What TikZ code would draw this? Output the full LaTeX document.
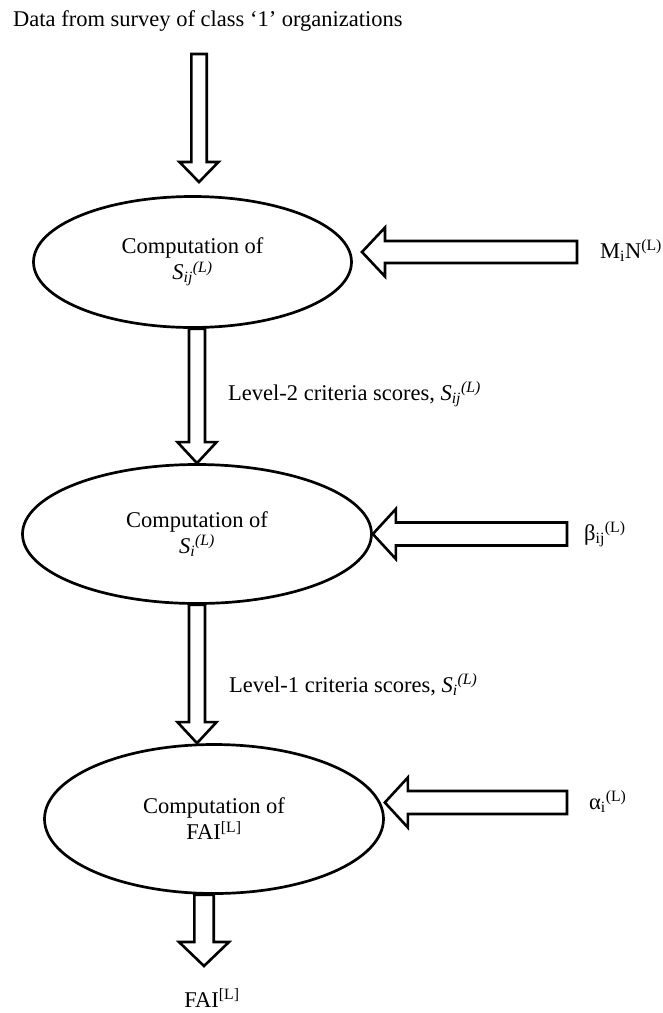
\documentclass[tikz,border=0pt]{standalone}
\usepackage{fontspec}
\setmainfont{Liberation Serif}
\usepackage{tikz}
\usetikzlibrary{shapes.geometric,calc}

\newcommand{\blockarrow}[5]{%
  \coordinate (hb) at ($(#2)!#5!(#1)$);
  \draw[blockline] ($(#1)!#3!90:(#2)$) -- ($(hb)!#3!90:(#2)$) -- ($(hb)!#4!90:(#2)$) -- (#2)
    -- ($(hb)!#4!-90:(#2)$) -- ($(hb)!#3!-90:(#2)$) -- ($(#1)!#3!-90:(#2)$) -- cycle;
}

\begin{document}
\begin{tikzpicture}[x=1pt,y=-1pt,
    every node/.style={font=\fontsize{22.5}{26}\selectfont,inner sep=0pt},
    comp/.style={ellipse,draw,line width=2.7pt,align=center},
    blockline/.style={draw,fill=white,line width=2.6pt,line join=miter}]
    \path[fill=white,use as bounding box] (0,0) rectangle (662,1013);

    \node[anchor=base west] (data) at (13,26) {Data from survey of class `1' organizations};
    \node[comp,minimum width=318pt,minimum height=131pt] (e1) at (192.5,262) {Computation of\\ \textit{S}\textsubscript{\textit{ij}}\textsuperscript{\textit{(L)}}};
    \node[comp,minimum width=349pt,minimum height=139pt] (e2) at (197,534) {Computation of\\ \textit{S}\textsubscript{\textit{i}}\textsuperscript{\textit{(L)}}};
    \node[comp,minimum width=339pt,minimum height=149pt] (e3) at (214,819) {Computation of\\ FAI\textsuperscript{[L]}};

    \node[anchor=base west] (lev2) at (228,400) {Level-2 criteria scores, \textit{S}\textsubscript{\textit{ij}}\textsuperscript{\textit{(L)}}};
    \node[anchor=base west] (lev1) at (229,692) {Level-1 criteria scores, \textit{S}\textsubscript{\textit{i}}\textsuperscript{\textit{(L)}}};
    \node[anchor=base west] (mn) at (600,258) {M\textsubscript{i}N\textsuperscript{(L)}};
    \node[anchor=base west] (beta) at (584,540) {β\textsubscript{ij}\textsuperscript{(L)}};
    \node[anchor=base west] (alpha) at (589,809) {α\textsubscript{i}\textsuperscript{(L)}};
    \node[anchor=base] (fai) at (212,1007) {FAI\textsuperscript{[L]}};

    \coordinate (datain) at (199,54);
    \coordinate (datatip) at (199,182);
    \coordinate (faitip) at (204,966);
    \coordinate (mnend) at (577,252);
    \coordinate (mntip) at (362,252);
    \coordinate (betaend) at (567,534);
    \coordinate (alphaend) at (567,802.5);

    \blockarrow{datain}{datatip}{7.7pt}{19.5pt}{20pt}
    \blockarrow{e1.south -| e2.north}{e2.north}{8pt}{19.5pt}{21pt}
    \blockarrow{e2.south}{e2.south |- e3.north}{8pt}{19.5pt}{21pt}
    \blockarrow{e3.south -| faitip}{faitip}{9.7pt}{25pt}{24pt}
    \blockarrow{mnend}{mntip}{11pt}{24.5pt}{23pt}
    \blockarrow{betaend}{e2.east |- betaend}{11.5pt}{25pt}{23pt}
    \blockarrow{alphaend}{e3.east |- alphaend}{11.5pt}{25pt}{23pt}
\end{tikzpicture}
\end{document}
